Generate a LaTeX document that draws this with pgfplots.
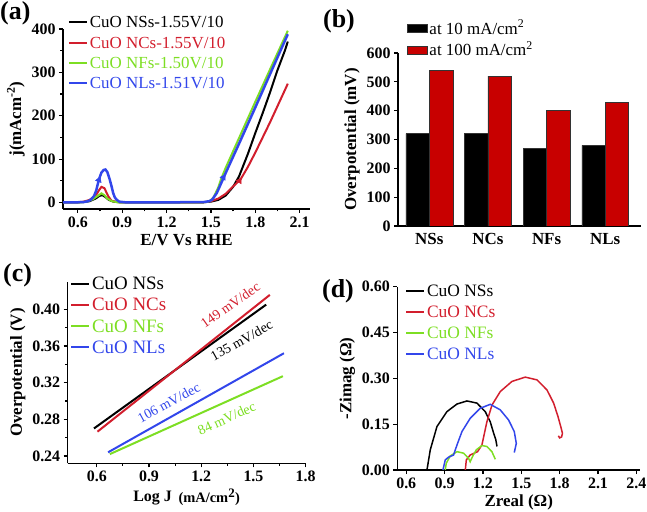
\documentclass[border=0pt]{standalone}
\usepackage{pgfplots}
\pgfplotsset{compat=1.18}
\usepackage{fontspec}
\setmainfont{Liberation Serif}
\definecolor{cred}{RGB}{210,30,45}
\definecolor{cbar}{RGB}{200,0,0}
\definecolor{cgreen}{RGB}{125,222,35}
\definecolor{cblue}{RGB}{50,70,235}
\pgfplotsset{
  myaxis/.style={
    scale only axis, anchor=south west,
    axis lines=left,
    axis line style={-, line width=1.5bp},
    enlargelimits=false,
    tick align=outside,
    major tick length=4bp, minor tick length=2.5bp,
    every tick/.style={line width=1.2bp, black},
    tick label style={font=\fontsize{16}{18}\selectfont\bfseries},
    label style={font=\fontsize{17}{19}\selectfont\bfseries},
    /pgf/number format/assume math mode=true,
    legend cell align=left,
    legend style={draw=none, fill=none, inner sep=0pt, outer sep=0pt,
      font=\fontsize{17}{19}\selectfont,
      nodes={inner sep=0pt, text height=12bp, text depth=4bp},
      row sep=4.4bp, anchor=north west,
      /tikz/every odd column/.append style={column sep=2bp}},
    legend image code/.code={\draw[##1, line width=2bp] (0bp,1.5bp) -- (18bp,1.5bp);},
  }
}
\begin{document}
\begin{tikzpicture}
\useasboundingbox (0,0) rectangle (647bp,512bp);
% ---------------- (a)
\begin{axis}[myaxis, at={(63bp,303bp)}, width=247bp, height=180bp,
  xmin=0.5, xmax=2.17, ymin=-15, ymax=400,
  xtick={0.6,0.9,1.2,1.5,1.8,2.1}, ytick={0,100,200,300,400},
  minor x tick num=1, minor y tick num=1,
  xticklabel style={/pgf/number format/.cd, fixed, fixed zerofill, precision=1},
  xlabel={E/V Vs RHE}, ylabel={j(mAcm\textsuperscript{-2})},
  legend style={at={(0.02,1.074)}}]
\addplot[black, line width=2bp] coordinates {(0.50,0) (0.60,0.3) (0.64,1) (0.68,3) (0.72,9) (0.745,15) (0.765,17) (0.785,13) (0.81,6) (0.84,2) (0.88,0.5) (0.95,0) (1.2,0) (1.45,0.5) (1.50,2) (1.55,6) (1.60,16) (1.65,36) (1.69,60) (1.75,112) (1.80,160) (1.85,206) (1.90,254) (1.95,305) (2.00,350) (2.02,371)};
\addlegendentry{CuO NSs-1.55V/10}
\addplot[cred, line width=2bp] coordinates {(0.50,0) (0.60,0.5) (0.64,2) (0.68,6) (0.70,11) (0.726,18.5) (0.745,29) (0.76,36) (0.78,33) (0.805,15) (0.828,4) (0.86,1.5) (0.92,0.5) (1.0,0) (1.2,0) (1.45,0.5) (1.50,3) (1.55,9) (1.60,20) (1.65,37) (1.70,53) (1.75,82) (1.80,115) (1.85,150) (1.90,185) (1.95,222) (2.00,259) (2.02,274)};
\addlegendentry{\textcolor{cred}{CuO NCs-1.55V/10}}
\addplot[cgreen, line width=2bp] coordinates {(0.50,0) (0.62,0.3) (0.66,2) (0.70,7) (0.73,14) (0.76,21) (0.78,17) (0.80,9) (0.83,3) (0.87,0.5) (0.92,0) (1.2,0) (1.45,0.5) (1.48,2) (1.50,5) (1.52,13) (1.55,35) (1.57,55) (1.60,80) (1.70,156) (1.80,232) (1.90,307) (2.02,396)};
\addlegendentry{\textcolor{cgreen}{CuO NFs-1.50V/10}}
\addplot[cblue, line width=2.5bp] coordinates {(0.50,0) (0.60,0.5) (0.64,1) (0.67,3) (0.69,7) (0.71,15) (0.725,28) (0.737,45) (0.75,60) (0.76,69) (0.775,75) (0.787,76) (0.80,70) (0.816,53) (0.83,35) (0.839,22) (0.85,12) (0.861,7) (0.88,2) (0.92,0.5) (1.0,0.3) (1.2,0.3) (1.45,1) (1.49,3) (1.51,7) (1.54,22) (1.57,45) (1.60,68) (1.70,143) (1.80,219) (1.90,296) (2.02,388)};
\addlegendentry{\textcolor{cblue}{CuO NLs-1.51V/10}}
\addplot[cblue, only marks, mark=triangle*, mark size=3.5bp, mark options={rotate=-30}, forget plot] coordinates {(1.585,58)};
\addplot[cblue, only marks, mark=triangle*, mark size=3.5bp, mark options={rotate=-20}, forget plot] coordinates {(0.743,52)};
\addplot[cred, only marks, mark=triangle*, mark size=3.5bp, mark options={rotate=-30}, forget plot] coordinates {(1.693,50)};
\end{axis}
% ---------------- (b)
\begin{axis}[myaxis, at={(398bp,286bp)}, width=243bp, height=173bp,
  ybar=0pt, bar width=0.4,
  xmin=-0.534, xmax=3.61, ymin=0, ymax=600,
  xtick={0,1,2,3}, xticklabels={NSs,NCs,NFs,NLs},
  xticklabel style={font=\fontsize{17}{19}\selectfont\bfseries},
  x tick style={draw=none},
  ytick={0,100,200,300,400,500,600},
  ylabel={Overpotential (mV)},
  legend image code/.code={\fill[#1] (0bp,-2.5bp) rectangle (20bp,5.5bp);},
  legend style={at={(0.037,1.179)}, row sep=5.7bp}]
\addplot[fill=black, draw=black!80, line width=0.5bp] coordinates {(0,320) (1,320) (2,270) (3,280)};
\addlegendentry{at 10 mA/cm\textsuperscript{2}}
\addplot[fill=cbar, draw=black!80, line width=0.5bp] coordinates {(0,540) (1,520) (2,400) (3,430)};
\addlegendentry{at 100 mA/cm\textsuperscript{2}}
\end{axis}
% ---------------- (c)
\begin{axis}[myaxis, at={(67.7bp,48.7bp)}, width=238bp, height=181.6bp,
  xmin=0.433, xmax=1.8, ymin=0.232, ymax=0.430,
  xtick={0.6,0.9,1.2,1.5,1.8}, ytick={0.24,0.28,0.32,0.36,0.40},
  minor x tick num=1, minor y tick num=1,
  xticklabel style={/pgf/number format/.cd, fixed, fixed zerofill, precision=1},
  yticklabel style={/pgf/number format/.cd, fixed, fixed zerofill, precision=2},
  xlabel={\fontsize{16}{18}\selectfont Log J\, \raisebox{-1bp}{\fontsize{14.5}{16}\selectfont(mA/cm\textsuperscript{\fontsize{13}{13}\selectfont 2})}},
  ylabel={Overpotential (V)},
  legend style={at={(0.01,1.0297)}, font=\fontsize{19}{21}\selectfont,
    nodes={inner sep=0pt, text height=13.5bp, text depth=4.5bp}, row sep=3.1bp}]
\addplot[black, line width=2bp] coordinates {(0.584,0.270) (1.573,0.405)};
\addlegendentry{CuO NSs}
\addplot[cred, line width=2bp] coordinates {(0.604,0.2665) (1.594,0.4156)};
\addlegendentry{\textcolor{cred}{CuO NCs}}
\addplot[cgreen, line width=2bp] coordinates {(0.675,0.242) (1.669,0.327)};
\addlegendentry{\textcolor{cgreen}{CuO NFs}}
\addplot[cblue, line width=2bp] coordinates {(0.665,0.244) (1.675,0.352)};
\addlegendentry{\textcolor{cblue}{CuO NLs}}
\node[rotate=35, text=cred, font=\fontsize{14}{16}\selectfont] at (axis cs:1.367,0.4047) {149 mV/dec};
\node[rotate=29, text=black, font=\fontsize{14}{16}\selectfont] at (axis cs:1.432,0.3660) {135 mV/dec};
\node[rotate=28.5, text=cblue, font=\fontsize{14}{16}\selectfont] at (axis cs:1.014,0.2980) {106 mV/dec};
\node[rotate=24, text=cgreen, font=\fontsize{14}{16}\selectfont] at (axis cs:1.346,0.2811) {84 mV/dec};
\end{axis}
% ---------------- (d)
\begin{axis}[myaxis, at={(397.3bp,42bp)}, width=243bp, height=183.3bp,
  xmin=0.53, xmax=2.431, ymin=0, ymax=0.60,
  xtick={0.6,0.9,1.2,1.5,1.8,2.1,2.4}, ytick={0,0.15,0.30,0.45,0.60},
  xticklabel style={/pgf/number format/.cd, fixed, fixed zerofill, precision=1},
  yticklabel style={/pgf/number format/.cd, fixed, fixed zerofill, precision=2},
  xlabel={Zreal (Ω)}, ylabel={-Zimag (Ω)},
  legend style={at={(0.032,1.011)}, font=\fontsize{17.5}{19}\selectfont, row sep=4.8bp}]
\addplot[black, line width=1.5bp] coordinates {(0.762,0) (0.788,0.066) (0.84,0.142) (0.918,0.191) (0.997,0.216) (1.075,0.226) (1.153,0.219) (1.218,0.191) (1.257,0.158) (1.284,0.120) (1.30,0.10) (1.31,0.077)};
\addlegendentry{CuO NSs}
\addplot[cred, line width=1.5bp] coordinates {(1.062,0) (1.07,0.033) (1.10,0.049) (1.158,0.06) (1.192,0.082) (1.231,0.158) (1.271,0.213) (1.336,0.257) (1.427,0.290) (1.531,0.304) (1.623,0.295) (1.701,0.262) (1.753,0.219) (1.787,0.175) (1.81,0.14) (1.822,0.12) (1.815,0.108) (1.80,0.105) (1.79,0.112)};
\addlegendentry{\textcolor{cred}{CuO NCs}}
\addplot[cgreen, line width=1.5bp] coordinates {(0.905,0) (0.913,0.022) (0.944,0.046) (0.997,0.06) (1.049,0.055) (1.088,0.038) (1.10,0.027) (1.121,0.046) (1.148,0.066) (1.192,0.080) (1.231,0.077) (1.27,0.06) (1.297,0.035)};
\addlegendentry{\textcolor{cgreen}{CuO NFs}}
\addplot[cblue, line width=1.5bp] coordinates {(0.887,0) (0.905,0.033) (0.931,0.042) (0.97,0.049) (0.997,0.082) (1.036,0.126) (1.10,0.169) (1.179,0.202) (1.257,0.215) (1.335,0.197) (1.40,0.164) (1.445,0.126) (1.461,0.087) (1.445,0.057)};
\addlegendentry{\textcolor{cblue}{CuO NLs}}
\end{axis}
% panel letters
\node[font=\fontsize{26}{28}\selectfont\bfseries, anchor=north west, inner sep=0pt] at (0bp,511bp) {(a)};
\node[font=\fontsize{26}{28}\selectfont\bfseries, anchor=north west, inner sep=0pt] at (323bp,503bp) {(b)};
\node[font=\fontsize{26}{28}\selectfont\bfseries, anchor=north west, inner sep=0pt] at (3bp,249bp) {(c)};
\node[font=\fontsize{26}{28}\selectfont\bfseries, anchor=north west, inner sep=0pt] at (322bp,233bp) {(d)};
\end{tikzpicture}
\end{document}
